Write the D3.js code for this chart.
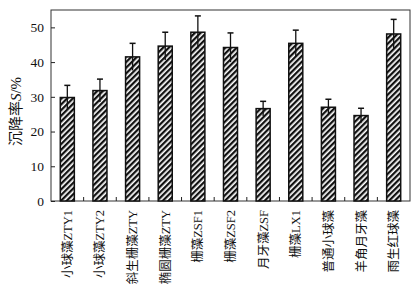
<!DOCTYPE html>
<html>
<head>
<meta charset="utf-8">
<script src="https://cdn.jsdelivr.net/npm/d3@7"></script>
<style>
  body { margin: 0; background: #fff; }
  svg text { font-family: "Liberation Serif", "Noto Sans CJK SC", serif; fill: #111; }
</style>
</head>
<body>
<div id="chart-container"></div>
<script>
// strains and their settling rate (mean, sd)
const strains = ["小球藻ZTY1", "小球藻ZTY2", "斜生栅藻ZTY", "椭圆栅藻ZTY", "栅藻ZSF1", "栅藻ZSF2",
                 "月牙藻ZSF", "栅藻LX1", "普通小球藻", "羊角月牙藻", "雨生红球藻"];
const rates = [29.8, 31.8, 41.5, 44.6, 48.6, 44.2, 26.6, 45.4, 27.0, 24.6, 48.1];
const errs = [3.5, 3.3, 3.9, 4.0, 4.7, 4.2, 2.1, 3.8, 2.3, 2.1, 4.2];
const yTicks = [0, 10, 20, 30, 40, 50];

const width = 420, height = 292;
const margin = { top: 10, right: 10, bottom: 91, left: 51 };

const svg = d3.select("#chart-container").append("svg")
    .attr("width", width)
    .attr("height", height);

// diagonal hatch for the bars
const defs = svg.append("defs");
const pat = defs.append("pattern")
    .attr("id", "hatch")
    .attr("patternUnits", "userSpaceOnUse")
    .attr("width", 4)
    .attr("height", 4)
    .attr("patternTransform", "rotate(45)");
pat.append("rect").attr("width", 4).attr("height", 4).attr("fill", "#fff");
pat.append("rect").attr("width", 2.3).attr("height", 4).attr("fill", "#111");

const x = d3.scaleBand()
    .domain(strains)
    .range([margin.left, width - margin.right])
    .paddingInner(0.57)
    .paddingOuter(0.285);

const y = d3.scaleLinear()
    .domain([0, 55])
    .range([height - margin.bottom, margin.top]);

// frame
svg.append("rect")
    .attr("x", margin.left)
    .attr("y", margin.top)
    .attr("width", width - margin.left - margin.right)
    .attr("height", height - margin.top - margin.bottom)
    .attr("fill", "none")
    .attr("stroke", "#333")
    .attr("stroke-width", 1);

// y axis, inward ticks
const yAxis = svg.append("g")
    .attr("transform", `translate(${margin.left},0)`)
    .call(d3.axisLeft(y).tickValues(yTicks).tickSizeInner(-4).tickSizeOuter(0).tickPadding(7));
yAxis.select(".domain").remove();
yAxis.selectAll("line").attr("stroke", "#222");
yAxis.selectAll("text").style("font-size", "13.5px").attr("fill", "#111");

// x tick marks between bars
const step = x.step();
const bounds = strains.slice(1).map(d => x(d) - step * x.paddingInner() / 2);
svg.selectAll(".xtick")
    .data(bounds)
    .enter().append("line")
    .attr("x1", d => d).attr("x2", d => d)
    .attr("y1", y(0)).attr("y2", y(0) - 4)
    .attr("stroke", "#222");

// bars
svg.selectAll(".bar")
    .data(rates)
    .enter().append("rect")
    .attr("x", (d, i) => x(strains[i]))
    .attr("y", d => y(d))
    .attr("width", x.bandwidth())
    .attr("height", d => y(0) - y(d))
    .attr("fill", "url(#hatch)")
    .attr("stroke", "#111")
    .attr("stroke-width", 1.5);

// error bars
const eb = svg.selectAll(".err")
    .data(rates)
    .enter().append("g");
eb.append("line")
    .attr("x1", (d, i) => x(strains[i]) + x.bandwidth() / 2)
    .attr("x2", (d, i) => x(strains[i]) + x.bandwidth() / 2)
    .attr("y1", (d, i) => y(d + errs[i]))
    .attr("y2", (d, i) => y(d - errs[i]))
    .attr("stroke", "#111")
    .attr("stroke-width", 1.3);
eb.append("line")
    .attr("x1", (d, i) => x(strains[i]) + x.bandwidth() / 2 - 3)
    .attr("x2", (d, i) => x(strains[i]) + x.bandwidth() / 2 + 3)
    .attr("y1", (d, i) => y(d + errs[i]))
    .attr("y2", (d, i) => y(d + errs[i]))
    .attr("stroke", "#111")
    .attr("stroke-width", 1.5);

// rotated category labels
svg.selectAll(".xlabel")
    .data(strains)
    .enter().append("text")
    .attr("transform", d => `translate(${x(d) + x.bandwidth() / 2 + 4.5},${y(0) + 9}) rotate(-90)`)
    .attr("text-anchor", "end")
    .style("font-size", "12.5px")
    .text(d => d);

// y axis title
const yt = svg.append("text")
    .attr("transform", `translate(21,${(margin.top + height - margin.bottom) / 2 + 6}) rotate(-90)`)
    .attr("text-anchor", "middle")
    .style("font-size", "15px");
yt.append("tspan").text("沉降率");
yt.append("tspan").style("font-style", "italic").text("S");
yt.append("tspan").text("/%");
</script>
</body>
</html>
